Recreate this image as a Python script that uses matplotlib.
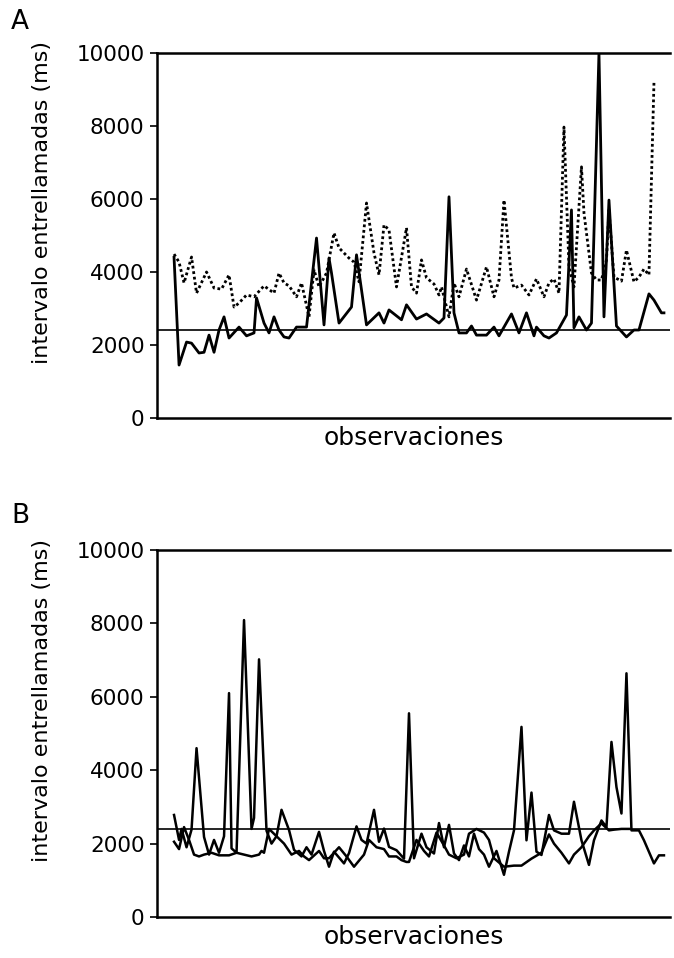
import matplotlib
matplotlib.use("Agg")
import matplotlib.pyplot as plt

# panel A: solid series
obs_a1 = [0, 2, 5, 7, 10, 12, 14, 16, 18, 20, 22, 26, 29, 32, 33, 36, 38, 40, 42, 44,
          46, 49, 53, 57, 60, 62, 63, 66, 71, 73, 77, 82, 84, 86, 91, 93, 97, 101, 106, 108,
          110, 112, 114, 117, 119, 121, 125, 128, 130, 135, 138, 141, 144, 145, 148, 150, 153, 157, 159, 160,
          162, 165, 167, 170, 172, 174, 177, 181, 184, 186, 190, 192, 195, 196]
val_a1 = [4400, 1450, 2080, 2050, 1780, 1800, 2270, 1800, 2410, 2770, 2190, 2490, 2250, 2330, 3290, 2600, 2330, 2770, 2410, 2220,
          2190, 2490, 2490, 4930, 2550, 4380, 3970, 2600, 3040, 4470, 2550, 2880, 2600, 2960, 2690, 3100, 2710, 2850, 2600, 2740,
          6060, 2880, 2330, 2330, 2520, 2270, 2270, 2490, 2250, 2850, 2330, 2880, 2250, 2490, 2250, 2190, 2330, 2820, 5700, 2470,
          2770, 2410, 2600, 10000, 2770, 5970, 2520, 2220, 2410, 2410, 3400, 3230, 2880, 2880]

# panel A: dotted series
obs_a2 = [0, 2, 4, 7, 9, 13, 16, 19, 22, 24, 26, 29, 32, 36, 40, 42, 44, 46, 49, 51,
          54, 56, 58, 61, 64, 66, 70, 72, 74, 77, 80, 82, 84, 86, 89, 93, 95, 97, 99, 101,
          104, 106, 107, 110, 112, 114, 117, 121, 125, 128, 130, 132, 135, 136, 139, 142, 145, 148, 150, 152,
          154, 156, 158, 160, 163, 164, 167, 169, 171, 173, 174, 176, 179, 181, 184, 186, 188, 190, 192]
val_a2 = [4490, 4270, 3700, 4410, 3420, 4000, 3560, 3530, 3920, 3040, 3150, 3370, 3320, 3620, 3420, 3970, 3700, 3620, 3320, 3700,
          2770, 4060, 3590, 3970, 5070, 4660, 4380, 4270, 3730, 5890, 4520, 3920, 5290, 5150, 3590, 5210, 3590, 3420, 4330, 3840,
          3670, 3370, 3590, 2770, 3700, 3320, 4080, 3230, 4140, 3320, 3780, 5970, 3840, 3560, 3640, 3370, 3810, 3320, 3700, 3810,
          3420, 7970, 4140, 3590, 6880, 5620, 3970, 3780, 3780, 4330, 5700, 3860, 3750, 4600, 3730, 3860, 4080, 3920, 9180]

# panel B: spiky series
obs_b1 = [0, 2, 3, 5, 7, 9, 12, 14, 16, 18, 20, 22, 23, 25, 28, 31, 32, 34, 37, 39,
          41, 43, 46, 48, 51, 53, 55, 58, 60, 62, 64, 68, 70, 73, 75, 77, 80, 82, 84, 86,
          89, 92, 94, 96, 99, 101, 104, 106, 108, 110, 112, 114, 116, 118, 120, 122, 124, 126, 129, 132,
          134, 136, 139, 141, 143, 145, 147, 150, 152, 155, 158, 160, 163, 166, 168, 171, 173, 175, 177, 179,
          181, 183, 186, 188, 192, 194, 196]
val_b1 = [2780, 2100, 2400, 1900, 2380, 4600, 2180, 1700, 2100, 1750, 2200, 6100, 1870, 1750, 8090, 2400, 2700, 7020, 2350, 2000,
          2200, 2920, 2370, 1830, 1650, 1900, 1700, 2320, 1800, 1370, 1780, 1460, 1740, 2470, 2100, 2000, 2920, 2050, 2410, 1910,
          1820, 1590, 5550, 1600, 2270, 1900, 1730, 2560, 1900, 2510, 1730, 1550, 1950, 1650, 2270, 1850, 1700, 1370, 1800, 1150,
          1780, 2360, 5180, 2090, 3390, 1780, 1690, 2780, 2360, 2270, 2270, 3140, 2090, 1420, 2090, 2630, 2450, 4770, 3540, 2820,
          6640, 2360, 2360, 2090, 1460, 1680, 1680]

# panel B: lower series
obs_b2 = [0, 2, 4, 6, 8, 10, 12, 15, 18, 22, 25, 28, 31, 34, 35, 36, 38, 44, 47, 50,
          52, 54, 58, 60, 62, 66, 69, 72, 76, 78, 81, 84, 86, 89, 91, 93, 94, 97, 100, 102,
          105, 108, 110, 113, 116, 118, 121, 124, 126, 128, 132, 136, 139, 143, 147, 150, 152, 155, 158, 160,
          163, 166, 168, 171, 174, 176, 179, 182]
val_b2 = [2050, 1850, 2450, 2100, 1700, 1650, 1700, 1750, 1680, 1680, 1750, 1700, 1650, 1700, 1800, 1750, 2400, 2000, 1700, 1800,
          1650, 1550, 1800, 1600, 1600, 1900, 1650, 1370, 1700, 2100, 1900, 1850, 1650, 1650, 1550, 1500, 1500, 2100, 1800, 1650,
          2300, 1950, 1700, 1600, 1700, 2270, 2400, 2300, 2100, 1600, 1370, 1400, 1400, 1590, 1750, 2250, 2000, 1750, 1460, 1700,
          1900, 2200, 2360, 2550, 2360, 2380, 2400, 2400]

criterio = 2400
yticks = [0, 2000, 4000, 6000, 8000, 10000]

plt.rcParams['font.family'] = 'DejaVu Sans'

fig = plt.figure(figsize=(6.74, 9.58), dpi=100)
ax1 = fig.add_axes([0.233, 0.5637, 0.761, 0.381])
ax2 = fig.add_axes([0.233, 0.0428, 0.761, 0.3831])

def panel(ax):
    ax.set_xlim(-6.8, 198.4)
    ax.set_ylim(0, 10000)
    ax.set_yticks(yticks)
    ax.set_xticks([])
    ax.spines['right'].set_visible(False)
    for s in ['left', 'top', 'bottom']:
        ax.spines[s].set_linewidth(1.8)
    ax.tick_params(axis='y', direction='out', length=5, width=1.2, labelsize=15.5, pad=4)
    ax.axhline(criterio, color='black', lw=1.2, zorder=1)
    ax.set_ylabel('intervalo entrellamadas (ms)', fontsize=16)
    ax.yaxis.set_label_coords(-0.205, 0.59)
    ax.set_xlabel('observaciones', fontsize=18, labelpad=6)

panel(ax1)
ax1.plot(obs_a2, val_a2, color='black', lw=2, linestyle=(0, (1, 1)))
ax1.plot(obs_a1, val_a1, color='black', lw=2)

panel(ax2)
ax2.plot(obs_b2, val_b2, color='black', lw=1.8)
ax2.plot(obs_b1, val_b1, color='black', lw=1.8)

fig.text(0.03, 0.977, 'A', fontsize=19, ha='center', va='center')
fig.text(0.03, 0.461, 'B', fontsize=19, ha='center', va='center')

fig.savefig('out.png', dpi=100)
